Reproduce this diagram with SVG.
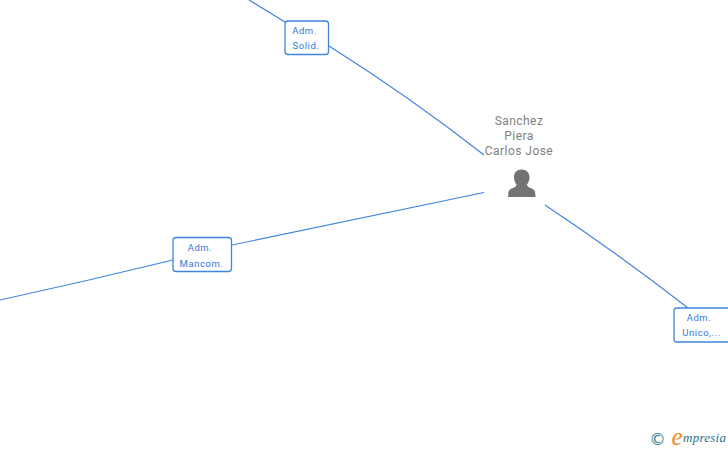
<svg xmlns="http://www.w3.org/2000/svg" width="728" height="450" viewBox="0 0 728 450">
<style>
.c{fill:none;stroke:#3f85e0;stroke-width:1.2}
.b{fill:#fff;stroke:#3f85e0;stroke-width:1.3}
.l{font-family:Roboto,"Liberation Sans",sans-serif;font-size:9.500px;fill:#2f78d8;text-anchor:middle;letter-spacing:.55px}
.n{font-family:Roboto,"Liberation Sans",sans-serif;font-size:12px;fill:#808080;text-anchor:middle;letter-spacing:.45px}
</style>
<rect width="728" height="450" fill="#fff"/>
<g id="connectors">
<path class="c" d="M249 0Q267 11 285 22"/>
<path class="c" d="M329 46Q410 97 484 155"/>
<path class="c" d="M484 192.500Q360 218 232 245"/>
<path class="c" d="M173 260Q87 281 0 300"/>
<path class="c" d="M545 205Q620 255 688 308"/>
</g>
<g id="node-solid"><rect class="b" x="285" y="21" width="43.500" height="33.500" rx="3"/><text class="l" x="304.500" y="34">Adm.</text><text class="l" x="306" y="49">Solid.</text></g>
<g id="node-mancom"><rect class="b" x="173" y="237.500" width="58.500" height="34" rx="3"/><text class="l" x="200" y="251">Adm.</text><text class="l" x="201.500" y="267">Mancom.</text></g>
<g id="node-unico"><rect class="b" x="674" y="308" width="60" height="34" rx="3"/><text class="l" x="699" y="321">Adm.</text><text class="l" x="701.500" y="336">Unico,...</text></g>
<g id="node-person">
<text class="n" x="519" y="125">Sanchez</text><text class="n" x="519" y="140">Piera</text><text class="n" x="519" y="155">Carlos Jose</text>
<path fill="#737373" d="M521.500 169.500C516.500 169.500 514 173 514 177C514 180 515 182.500 516.500 184.500C516.500 186 515.500 187 513 188C510 189 508.500 190.500 508.300 193L508 197H535.500L535.200 193C535 190.500 533.500 189 530.500 188C528 187 527 186 527 184.500C528.500 182.500 529.500 180 529.500 177C529.500 173 526.500 169.500 521.500 169.500Z"/>
</g>
<g id="logo">
<text x="657.500" y="445" font-family="DejaVu Sans,sans-serif" font-size="16.500" fill="#2f7a90" text-anchor="middle">©</text>
<text x="677" y="445" font-family="Liberation Serif,serif" font-size="25" font-style="italic" fill="#ee8a1e" text-anchor="middle">e</text>
<text x="683" y="442" font-family="Liberation Serif,serif" font-size="13" font-style="italic" fill="#1f6f85" textLength="43">mpresia</text>
</g>
</svg>
